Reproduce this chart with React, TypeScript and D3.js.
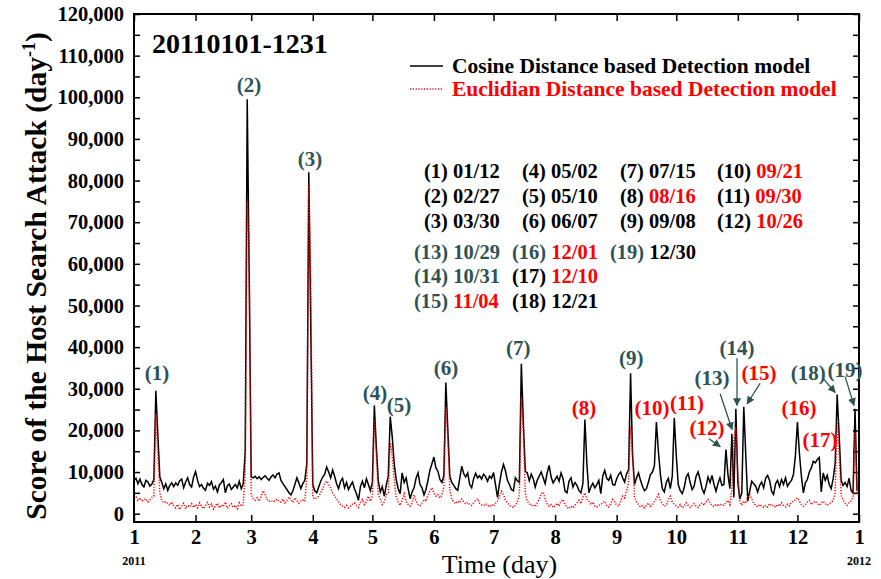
import React, { useEffect, useRef } from "react";
import * as d3 from "d3";

// daily score of the host search attack, in thousands (2011-01-01 .. 2011-12-31)
const cosine = [
  // Jan
  7.9, 8.5, 7.2, 8.3, 7.0, 6.4, 8.0, 7.6, 6.6, 7.1,
  8.2, 29.5, 19.0, 8.8, 7.5, 6.0, 7.2, 5.6, 6.8, 7.4,
  6.5, 7.4, 6.8, 7.9, 8.3, 6.2, 7.6, 8.6, 7.0, 6.4, 8.8,
  // Feb
  10.1, 8.0, 6.5, 7.0, 6.1, 5.6, 7.3, 6.8, 7.7, 5.9,
  6.6, 5.2, 6.9, 7.5, 8.2, 5.0, 6.7, 7.1, 5.8, 6.4,
  7.0, 6.2, 7.8, 6.0, 7.2, 15.0, 99.5, 57.0,
  // Mar
  8.8, 8.6, 9.0, 8.4, 8.9, 8.2, 8.7, 9.1, 8.5, 8.0,
  8.8, 9.3, 8.6, 9.5, 9.8, 8.0, 7.2, 6.5, 5.8, 5.0,
  4.5, 5.5, 7.0, 8.6, 7.4, 6.0, 7.2, 8.0, 12.0, 82.0, 45.0,
  // Apr
  7.0, 5.5, 5.0, 6.4, 7.8, 8.8, 9.5, 11.2, 10.0, 8.6,
  10.5, 9.0, 7.2, 6.0, 7.8, 8.5, 6.2, 7.5, 5.8, 6.8,
  7.6, 6.0, 4.8, 3.2, 6.5, 7.8, 6.2, 8.4, 7.0, 5.5,
  // May
  7.5, 26.0, 16.0, 7.8, 5.2, 6.5, 4.2, 6.8, 9.0, 23.3,
  18.5, 12.0, 8.2, 6.0, 4.8, 9.8, 7.5, 8.6, 6.0, 3.6,
  5.2, 6.2, 8.5, 9.8, 7.0, 6.2, 4.5, 5.8, 8.0, 10.5, 12.0,
  // Jun
  13.6, 11.0, 10.2, 8.2, 7.5, 9.2, 31.5, 20.0, 9.0, 7.5,
  6.8, 6.0, 5.6, 8.5, 11.4, 9.6, 8.8, 9.8, 7.0, 6.2,
  8.4, 9.7, 8.6, 9.1, 8.3, 9.5, 8.9, 7.8, 9.0, 8.5,
  // Jul
  9.9, 7.0, 3.9, 7.2, 10.0, 11.8, 10.3, 8.0, 7.0, 5.8,
  5.5, 8.6, 7.9, 7.5, 36.0, 22.0, 10.2, 9.8, 7.9, 9.5,
  8.4, 6.4, 8.0, 9.0, 10.0, 8.6, 7.2, 9.8, 11.6, 8.8, 7.4,
  // Aug
  8.2, 9.0, 7.8, 9.8, 8.4, 5.4, 5.0, 7.8, 8.6, 6.4,
  7.5, 6.8, 5.6, 5.0, 7.2, 22.6, 12.0, 5.0, 6.4, 7.3,
  6.2, 7.0, 8.0, 4.8, 9.0, 10.4, 8.5, 8.0, 9.2, 7.0, 6.8,
  // Sep
  8.4, 9.4, 10.0, 8.6, 7.6, 9.6, 10.5, 33.7, 14.0, 7.0,
  8.6, 9.8, 8.0, 6.6, 5.5, 6.0, 7.6, 9.4, 10.0, 11.5,
  22.0, 15.0, 9.5, 6.0, 5.2, 7.5, 8.5, 6.0, 9.0, 23.0,
  // Oct
  14.0, 7.0, 5.5, 4.8, 6.2, 8.8, 9.6, 7.5, 5.8, 6.6,
  9.0, 10.0, 8.2, 6.0, 4.9, 6.6, 8.8, 7.5, 9.2, 7.0,
  5.4, 7.2, 8.6, 6.8, 7.0, 15.4, 9.5, 6.0, 19.2, 3.9, 25.2,
  // Nov
  7.5, 3.5, 5.0, 25.7, 14.0, 3.0, 5.5, 7.8, 7.2, 6.6,
  5.2, 6.8, 7.6, 6.2, 8.5, 9.2, 8.0, 5.4, 4.6, 7.2,
  8.0, 6.5, 8.2, 7.0, 8.6, 6.6, 7.4, 8.0, 9.4, 14.0,
  // Dec
  22.0, 14.5, 9.0, 5.0, 7.4, 8.2, 10.0, 11.0, 12.6, 12.2,
  13.0, 13.5, 5.2, 9.8, 8.0, 9.2, 7.0, 6.0, 8.4, 12.0,
  28.6, 19.0, 8.0, 6.8, 7.5, 6.5, 8.5, 5.6, 5.0, 25.2, 5.5,
];

const euclidean = [
  // Jan
  3.5, 4.0, 3.2, 3.8, 3.0, 3.4, 3.6, 2.8, 3.3, 3.9,
  4.2, 24.0, 14.0, 5.0, 3.2, 2.6, 2.9, 2.4, 2.0, 2.8,
  1.8, 1.4, 2.2, 1.0, 1.8, 2.5, 1.2, 2.0, 1.6, 2.4, 1.5,
  // Feb
  2.2, 1.4, 2.6, 1.8, 1.2, 2.0, 2.7, 1.6, 2.3, 1.1,
  1.9, 2.5, 1.4, 2.1, 1.7, 2.8, 1.3, 1.9, 2.4, 1.5,
  2.0, 1.2, 2.6, 1.8, 2.2, 10.0, 75.0, 63.0,
  // Mar
  4.5, 3.6, 3.2, 3.8, 3.0, 4.2, 5.5, 4.6, 3.4, 3.0,
  3.2, 2.8, 3.1, 3.5, 3.0, 2.8, 3.5, 2.6, 3.2, 4.0,
  3.4, 2.7, 3.8, 3.1, 2.5, 3.0, 3.3, 2.9, 9.0, 79.0, 57.0,
  // Apr
  4.0, 3.5, 3.8, 4.2, 5.0, 6.0, 7.2, 7.8, 7.0, 6.2,
  5.0, 4.2, 3.6, 2.8, 2.2, 1.8, 1.5, 2.0, 1.4, 1.8,
  2.3, 2.6, 2.0, 1.5, 2.8, 3.4, 2.2, 2.8, 4.2, 3.0,
  // May
  4.2, 22.5, 14.0, 4.5, 3.5, 2.2, 2.8, 4.5, 5.0, 17.0,
  14.0, 8.0, 4.0, 2.8, 2.0, 3.2, 4.8, 3.0, 2.2, 1.8,
  2.5, 4.5, 3.0, 2.2, 1.9, 2.6, 3.4, 3.0, 4.5, 5.5, 6.2,
  // Jun
  5.0, 4.2, 4.6, 3.8, 4.4, 6.5, 25.7, 18.0, 5.5, 3.6,
  2.8, 2.4, 3.0, 2.6, 3.5, 2.9, 2.3, 2.7, 2.2, 2.0,
  2.6, 3.2, 3.6, 2.5, 2.1, 1.9, 2.4, 2.0, 1.6, 2.2,
  // Jul
  1.8, 2.5, 3.0, 4.2, 5.4, 4.6, 3.2, 2.6, 2.0, 1.7,
  1.5, 2.0, 2.8, 4.5, 28.0, 20.0, 5.0, 3.0, 2.4, 1.9,
  2.2, 1.7, 2.6, 3.4, 4.8, 5.2, 3.6, 2.3, 1.8, 2.2, 1.5,
  // Aug
  1.9, 2.5, 1.8, 3.0, 3.4, 2.2, 1.6, 1.2, 1.8, 1.4,
  2.0, 2.6, 3.2, 2.4, 4.0, 5.0, 3.5, 3.0, 2.2, 2.8,
  1.8, 1.6, 2.0, 2.2, 2.6, 3.0, 2.0, 1.6, 2.4, 3.4, 2.8,
  // Sep
  2.0, 1.8, 3.0, 4.2, 3.8, 5.5, 7.5, 21.0, 14.0, 4.0,
  2.8, 2.2, 1.6, 1.9, 1.4, 2.0, 2.6, 1.8, 2.2, 3.0,
  3.6, 4.6, 3.2, 2.4, 1.8, 2.0, 3.4, 4.2, 2.8, 2.2,
  // Oct
  1.9, 1.6, 2.2, 1.4, 1.7, 2.6, 2.0, 1.5, 1.9, 2.4,
  1.8, 1.5, 2.2, 2.6, 2.0, 2.8, 3.4, 2.6, 2.0, 1.7,
  2.3, 1.8, 2.4, 2.0, 2.0, 2.6, 3.2, 2.2, 6.0, 18.0, 20.7,
  // Nov
  10.0, 3.0, 2.0, 3.0, 2.5, 4.0, 4.6, 3.5, 2.6, 2.0,
  1.6, 2.2, 1.8, 1.5, 2.0, 1.6, 2.4, 1.9, 2.0, 1.5,
  2.2, 1.8, 2.6, 2.0, 1.6, 2.3, 1.9, 2.8, 3.0, 3.4,
  // Dec
  3.8, 3.0, 2.2, 1.8, 2.2, 2.8, 3.2, 2.2, 2.7, 3.0,
  2.4, 2.0, 2.6, 3.0, 2.4, 2.0, 2.4, 2.7, 3.2, 5.0,
  22.0, 14.7, 4.5, 3.2, 2.5, 2.0, 2.6, 3.0, 4.0, 19.5, 5.0,
];

const monthLabels = ["1", "2", "3", "4", "5", "6", "7", "8", "9", "10", "11", "12", "1"];
const yearLabels = ["2011", "2012"];

// peak labels: day of year / score (thousands) where the label sits, colour key
const peakLabels = [
  { text: "(1)", day: 11.6, value: 32.0, c: "s" },
  { text: "(2)", day: 57.9, value: 101.2, c: "s" },
  { text: "(3)", day: 88.6, value: 83.4, c: "s" },
  { text: "(4)", day: 121.3, value: 27.2, c: "s" },
  { text: "(5)", day: 133.4, value: 24.3, c: "s" },
  { text: "(6)", day: 157.1, value: 33.4, c: "s" },
  { text: "(7)", day: 193.4, value: 38.0, c: "s" },
  { text: "(8)", day: 226.6, value: 23.8, c: "r" },
  { text: "(9)", day: 250.3, value: 35.8, c: "s" },
  { text: "(10)", day: 260.8, value: 23.8, c: "r" },
  { text: "(11)", day: 278.4, value: 24.8, c: "r" },
  { text: "(12)", day: 288.5, value: 19.0, c: "r" },
  { text: "(13)", day: 291.0, value: 30.8, c: "s" },
  { text: "(14)", day: 303.6, value: 38.2, c: "s" },
  { text: "(15)", day: 314.7, value: 32.2, c: "r" },
  { text: "(16)", day: 334.8, value: 23.8, c: "r" },
  { text: "(17)", day: 345.4, value: 15.9, c: "r" },
  { text: "(18)", day: 339.4, value: 32.2, c: "s" },
  { text: "(19)", day: 358.0, value: 32.9, c: "s" },
];

// arrows from a label to its peak: [day, thousands] -> [day, thousands]
const peakArrows = [
  [[289.5, 18.0], [295.1, 16.1]],
  [[295.1, 28.8], [301.1, 20.2]],
  [[303.6, 37.3], [303.6, 26.0]],
  [[315.2, 31.3], [308.7, 26.4]],
  [[346.9, 32.5], [353.0, 29.1]],
  [[358.0, 32.9], [362.5, 26.0]],
];

// date list: number, date, colour of number, colour of date
const dateTable1 = [
  ["(1)", "01/12", "k", "k"], ["(2)", "02/27", "k", "k"], ["(3)", "03/30", "k", "k"],
  ["(4)", "05/02", "k", "k"], ["(5)", "05/10", "k", "k"], ["(6)", "06/07", "k", "k"],
  ["(7)", "07/15", "k", "k"], ["(8)", "08/16", "k", "r"], ["(9)", "09/08", "k", "k"],
  ["(10)", "09/21", "k", "r"], ["(11)", "09/30", "k", "r"], ["(12)", "10/26", "k", "r"],
];
const dateTable2 = [
  ["(13)", "10/29", "s", "s"], ["(14)", "10/31", "s", "s"], ["(15)", "11/04", "s", "r"],
  ["(16)", "12/01", "s", "r"], ["(17)", "12/10", "k", "r"], ["(18)", "12/21", "k", "k"],
  ["(19)", "12/30", "s", "k"],
];

const FONT = '"Liberation Serif", "Times New Roman", Times, serif';
const SLATE = "#2f5353";
const RED = "#ff0000";
const colorOf = (c: string) => (c === "r" ? RED : c === "s" ? SLATE : "#000");

const App = () => {
  const svgRef = useRef<SVGSVGElement>(null);

  useEffect(() => {
    const w = 881;
    const h = 579;
    const x0 = 134,
      x1 = 859,
      y0 = 14,
      y1 = 522;

    const svg = d3.select(svgRef.current).attr("width", w).attr("height", h);
    svg.selectAll("*").remove();

    const start = Date.UTC(2011, 0, 1);
    const end = Date.UTC(2012, 0, 1);
    const dayDate = (d: number) => new Date(start + d * 864e5);

    const xScale = d3.scaleUtc().domain([start, end]).range([x0, x1]);
    const yScale = d3.scaleLinear().domain([-2000, 120000]).range([y1, y0]);

    // axes (ticks point inwards on all four sides)
    const months = d3.utcMonth.range(new Date(start), new Date(end + 1));

    const gy = svg
      .append("g")
      .attr("transform", `translate(${x0},0)`)
      .call(
        d3
          .axisLeft(yScale)
          .tickValues(d3.range(0, 120001, 5000))
          .tickSizeInner(-6)
          .tickSizeOuter(0)
          .tickPadding(10)
          .tickFormat((v) => (+v % 10000 === 0 ? d3.format(",")(+v) : ""))
      );
    gy.select(".domain").remove();

    const gyr = svg
      .append("g")
      .attr("transform", `translate(${x1},0)`)
      .call(d3.axisRight(yScale).tickValues(d3.range(0, 120001, 5000)).tickSizeInner(-6).tickSizeOuter(0).tickFormat(() => ""));
    gyr.select(".domain").remove();

    const gx = svg
      .append("g")
      .attr("transform", `translate(0,${y1})`)
      .call(
        d3
          .axisBottom(xScale)
          .tickValues(months)
          .tickSizeInner(-7)
          .tickSizeOuter(0)
          .tickPadding(7)
          .tickFormat((d, i) => monthLabels[i])
      );
    gx.select(".domain").remove();

    const gxt = svg
      .append("g")
      .attr("transform", `translate(0,${y0})`)
      .call(d3.axisTop(xScale).tickValues(months).tickSizeInner(-7).tickSizeOuter(0).tickFormat(() => ""));
    gxt.select(".domain").remove();

    [gy, gyr, gx, gxt].forEach((g) => {
      g.attr("font-family", FONT).attr("font-size", 20.5).attr("font-weight", "bold");
      g.selectAll("line").attr("stroke", "#000").attr("stroke-width", 1.5);
      g.selectAll("text").attr("fill", "#000");
    });

    // years under the first and last tick
    svg
      .selectAll(".year")
      .data(yearLabels)
      .join("text")
      .attr("x", (d, i) => xScale(i === 0 ? start : end))
      .attr("y", 565)
      .attr("text-anchor", "middle")
      .attr("font-family", FONT)
      .attr("font-size", 12)
      .attr("font-weight", "bold")
      .text((d) => d);

    // lines
    const line = d3
      .line<number>()
      .x((d, i) => xScale(dayDate(i)))
      .y((d) => yScale(d * 1000));

    svg
      .append("path")
      .attr("d", line(cosine))
      .attr("fill", "none")
      .attr("stroke", "#000")
      .attr("stroke-width", 1.5);

    svg
      .append("path")
      .attr("d", line(euclidean))
      .attr("fill", "none")
      .attr("stroke", RED)
      .attr("stroke-width", 1.5)
      .attr("stroke-dasharray", "1.2,1.6");

    // frame
    svg
      .append("rect")
      .attr("x", x0)
      .attr("y", y0)
      .attr("width", x1 - x0)
      .attr("height", y1 - y0)
      .attr("fill", "none")
      .attr("stroke", "#000")
      .attr("stroke-width", 2);

    // axis titles
    const yTitle = svg
      .append("text")
      .attr("transform", `translate(46,276) rotate(-90)`)
      .attr("text-anchor", "middle")
      .attr("font-family", FONT)
      .attr("font-size", 29.5)
      .attr("font-weight", "bold");
    yTitle.append("tspan").text("Score of the Host Search Attack (day");
    yTitle.append("tspan").attr("font-size", 18).attr("dy", -11).text("-1");
    yTitle.append("tspan").attr("dy", 11).text(")");

    svg
      .append("text")
      .attr("x", (x0 + x1) / 2 + 3)
      .attr("y", 573)
      .attr("text-anchor", "middle")
      .attr("font-family", FONT)
      .attr("font-size", 26)
      .text("Time (day)");

    // period title
    svg
      .append("text")
      .attr("x", 152)
      .attr("y", 53)
      .attr("font-family", FONT)
      .attr("font-size", 28)
      .attr("font-weight", "bold")
      .text("20110101-1231");

    // legend
    svg.append("line").attr("x1", 410).attr("x2", 443).attr("y1", 66).attr("y2", 66).attr("stroke", "#000").attr("stroke-width", 1.6);
    svg
      .append("line")
      .attr("x1", 410)
      .attr("x2", 443)
      .attr("y1", 89)
      .attr("y2", 89)
      .attr("stroke", RED)
      .attr("stroke-width", 1.5)
      .attr("stroke-dasharray", "1.2,1.6");
    svg
      .append("text")
      .attr("x", 452)
      .attr("y", 73)
      .attr("font-family", FONT)
      .attr("font-size", 21.5)
      .attr("font-weight", "bold")
      .text("Cosine Distance based Detection model");
    svg
      .append("text")
      .attr("x", 452)
      .attr("y", 96)
      .attr("font-family", FONT)
      .attr("font-size", 21.5)
      .attr("font-weight", "bold")
      .attr("fill", RED)
      .text("Euclidian Distance based Detection model");

    // date table
    const drawTable = (rows: string[][], xs: number[], ys: number[]) => {
      rows.forEach((r, i) => {
        const t = svg
          .append("text")
          .attr("x", xs[Math.floor(i / 3)])
          .attr("y", ys[i % 3])
          .attr("font-family", FONT)
          .attr("font-size", 20.5)
          .attr("font-weight", "bold")
          .attr("xml:space", "preserve");
        t.append("tspan").attr("fill", colorOf(r[2])).text(r[0] + " ");
        t.append("tspan").attr("fill", colorOf(r[3])).text(r[1]);
      });
    };
    drawTable(dateTable1, [424, 522, 620, 717], [178, 203, 228]);
    drawTable(dateTable2, [414, 512, 610], [259, 283, 308]);

    // arrows
    svg
      .append("defs")
      .append("marker")
      .attr("id", "arrowHead")
      .attr("viewBox", "0 0 10 10")
      .attr("refX", 9)
      .attr("refY", 5)
      .attr("markerWidth", 8)
      .attr("markerHeight", 8)
      .attr("markerUnits", "userSpaceOnUse")
      .attr("orient", "auto")
      .append("path")
      .attr("d", "M0,0L10,5L0,10z")
      .attr("fill", SLATE);

    svg
      .selectAll(".arrow")
      .data(peakArrows)
      .join("line")
      .attr("x1", (d) => xScale(dayDate(d[0][0])))
      .attr("y1", (d) => yScale(d[0][1] * 1000))
      .attr("x2", (d) => xScale(dayDate(d[1][0])))
      .attr("y2", (d) => yScale(d[1][1] * 1000))
      .attr("stroke", SLATE)
      .attr("stroke-width", 1.3)
      .attr("marker-end", "url(#arrowHead)");

    // peak labels
    svg
      .selectAll(".peak")
      .data(peakLabels)
      .join("text")
      .attr("x", (d) => xScale(dayDate(d.day)))
      .attr("y", (d) => yScale(d.value * 1000))
      .attr("text-anchor", "middle")
      .attr("font-family", FONT)
      .attr("font-size", 21)
      .attr("font-weight", "bold")
      .attr("fill", (d) => colorOf(d.c))
      .text((d) => d.text);
  }, []);

  return (
    <div style={{ position: "absolute", left: 0, top: 0, background: "#fff" }}>
      <svg ref={svgRef}></svg>
    </div>
  );
};

export default App;
